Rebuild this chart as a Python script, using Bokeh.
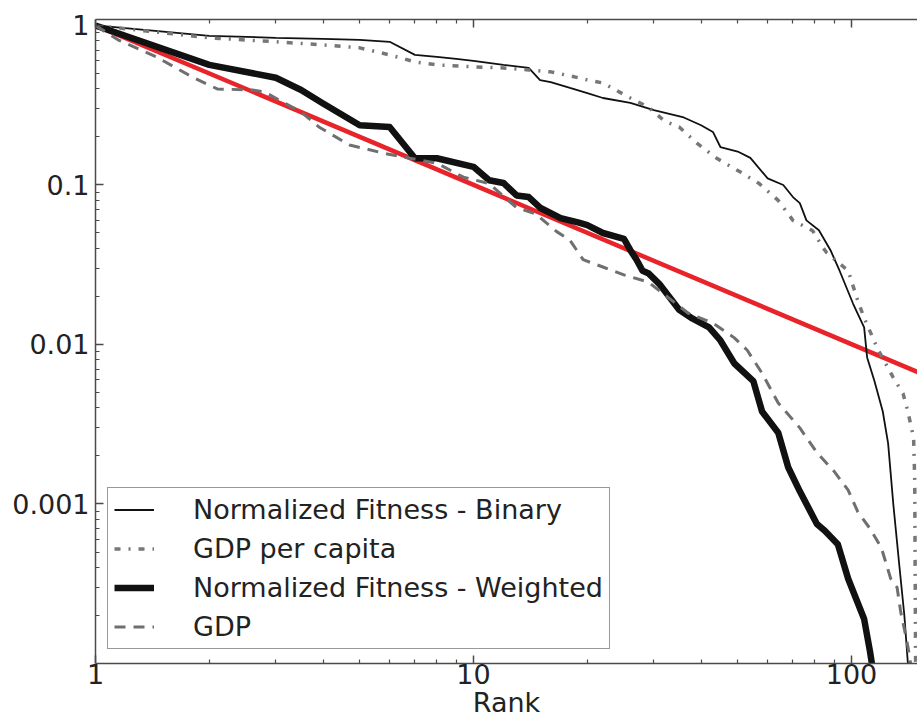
from bokeh.plotting import figure
from bokeh.models import LogAxis, FixedTicker, Legend, LegendItem, Range1d, CustomJSTickFormatter
from bokeh.embed import file_html
from bokeh.resources import INLINE

FONT = "DejaVu Sans"

# ---- tick definitions ----
x_major = [1, 10, 100]
x_minor = [2, 3, 4, 5, 6, 7, 8, 9, 20, 30, 40, 50, 60, 70, 80, 90]
x_labels = {1.0: "1", 10.0: "10", 100.0: "100"}
y_major = [0.001, 0.01, 0.1, 1]
y_minor = [2e-4, 3e-4, 4e-4, 5e-4, 6e-4, 7e-4, 8e-4, 9e-4,
           2e-3, 3e-3, 4e-3, 5e-3, 6e-3, 7e-3, 8e-3, 9e-3,
           0.02, 0.03, 0.04, 0.05, 0.06, 0.07, 0.08, 0.09,
           0.2, 0.3, 0.4, 0.5, 0.6, 0.7, 0.8, 0.9]
y_labels = {0.001: "0.001", 0.01: "0.01", 0.1: "0.1", 1.0: "1"}

# ---- series ----
binary_rank = [1, 2, 3, 4, 5, 6, 7, 8, 9, 10, 12, 14, 15, 16, 18, 20, 22, 26, 30, 36, 40, 43,
               45, 50, 54, 60, 66, 70, 73, 76, 82, 88, 93, 101, 108, 110, 115, 121, 125,
               129, 134, 138, 141, 143]
binary_value = [1.0, 0.861, 0.837, 0.825, 0.813, 0.79, 0.654, 0.636, 0.617, 0.60, 0.566, 0.542,
                0.455, 0.442, 0.406, 0.377, 0.351, 0.327, 0.295, 0.265, 0.237, 0.215,
                0.173, 0.162, 0.148, 0.11, 0.10, 0.084, 0.077, 0.06, 0.052, 0.039, 0.029,
                0.018, 0.0128, 0.0083, 0.0059, 0.0038, 0.0024, 0.001, 0.0004, 0.0002,
                0.0001, 0.00007]

gdppc_rank = [1, 2, 3, 4, 5, 6, 7, 8, 10, 12, 14, 16, 18, 20, 22, 26, 29, 32, 35, 39, 44, 51,
              57, 64, 70, 79, 84, 86, 98, 104, 108, 117, 129, 137, 141, 146, 147, 148]
gdppc_value = [1.0, 0.837, 0.79, 0.756, 0.724, 0.654, 0.591, 0.566, 0.55, 0.542, 0.526, 0.512,
               0.483, 0.456, 0.436, 0.351, 0.308, 0.252, 0.231, 0.183, 0.147, 0.12, 0.102,
               0.08, 0.06, 0.0516, 0.0405, 0.0376, 0.029, 0.0187, 0.0147, 0.0095, 0.0062,
               0.0049, 0.0038, 0.0026, 0.0014, 0.00005]

weighted_rank = [1, 2, 3, 3.5, 4, 5, 6, 7, 8, 10, 11, 12, 13, 14, 15, 17, 19, 20, 22, 25, 26,
                 27, 28, 29, 31, 35, 38, 42, 45, 49, 55, 58, 64, 68, 73, 81, 85, 92, 98,
                 108, 112, 114]
weighted_value = [1.0, 0.566, 0.47, 0.394, 0.324, 0.237, 0.231, 0.147, 0.147, 0.13, 0.107,
                  0.103, 0.086, 0.084, 0.072, 0.062, 0.058, 0.056, 0.05, 0.046, 0.039, 0.034,
                  0.029, 0.028, 0.024, 0.0165, 0.0145, 0.0128, 0.0106, 0.0076, 0.0059,
                  0.0038, 0.0028, 0.0017, 0.0012, 0.00075, 0.00068, 0.00056, 0.00034,
                  0.00019, 0.000118, 0.00009]

gdp_rank = [1, 1.15, 1.45, 1.8, 2.1, 2.6, 2.8, 3.1, 3.5, 3.9, 4.7, 5.8, 6.8, 8, 9.4, 11, 13,
            14.6, 16.6, 18, 19.5, 22, 25, 29, 31, 37, 43, 49, 53, 58, 64, 73, 81, 90, 98,
            104, 112, 120, 127, 132, 135, 140, 143, 145]
gdp_value = [1.0, 0.81, 0.635, 0.476, 0.40, 0.394, 0.383, 0.335, 0.287, 0.231, 0.178, 0.158,
             0.147, 0.137, 0.112, 0.102, 0.072, 0.066, 0.051, 0.045, 0.034, 0.0306, 0.0273,
             0.0246, 0.0218, 0.0157, 0.0136, 0.011, 0.0092, 0.0066, 0.0043, 0.003, 0.0021,
             0.0016, 0.00122, 0.00089, 0.0007, 0.00053, 0.00034, 0.0003, 0.00021, 0.00014,
             0.000105, 0.00007]

fit_rank = [1, 150]
fit_value = [1.0, 0.0067]

series_labels = ["Normalized Fitness - Binary", "GDP per capita",
                 "Normalized Fitness - Weighted", "GDP"]
x_title = "Rank"

# ---- figure ----
p = figure(width=917, height=721, x_axis_type="log", y_axis_type="log",
           x_range=Range1d(1, 149.5), y_range=Range1d(1e-4, 1.09),
           output_backend="svg", toolbar_location=None,
           min_border_left=95, min_border_right=0, min_border_top=19,
           min_border_bottom=58)
p.outline_line_color = None
p.xgrid.visible = False
p.ygrid.visible = False
p.background_fill_color = "white"
p.border_fill_color = "white"

bottom_axis = p.below[0]
left_axis = p.left[0]
top_axis = LogAxis(formatter=CustomJSTickFormatter(code="return ''"))
p.add_layout(top_axis, "above")

AX = "#4a4a4a"
for ax in [bottom_axis, left_axis, top_axis]:
    ax.axis_line_color = AX
    ax.axis_line_width = 1.5
    ax.major_tick_line_color = AX
    ax.major_tick_line_width = 1.5
    ax.minor_tick_line_color = AX
    ax.minor_tick_line_width = 1.2
    ax.major_tick_in = 8
    ax.major_tick_out = 0
    ax.minor_tick_in = 4
    ax.minor_tick_out = 0
    ax.major_label_text_font = FONT
    ax.major_label_text_font_size = "27px"
    ax.major_label_text_color = "#222222"

for ax in [bottom_axis, top_axis]:
    ax.ticker = FixedTicker(ticks=x_major, minor_ticks=x_minor)
bottom_axis.major_label_overrides = x_labels
left_axis.ticker = FixedTicker(ticks=y_major, minor_ticks=y_minor)
left_axis.major_label_overrides = y_labels
left_axis.major_label_standoff = 6
bottom_axis.major_label_standoff = 0
top_axis.major_label_standoff = 0

bottom_axis.axis_label = x_title
bottom_axis.axis_label_text_font = FONT
bottom_axis.axis_label_text_font_style = "normal"
bottom_axis.axis_label_text_font_size = "27px"
bottom_axis.axis_label_text_color = "#222222"
bottom_axis.axis_label_standoff = 0

# ---- lines ----
p.line(fit_rank, fit_value, line_color="#e8232a", line_width=4.5)
r_b = p.line(binary_rank, binary_value, line_color="#111111", line_width=1.8)
r_pc = p.line(gdppc_rank, gdppc_value, line_color="#777777", line_width=3.5,
              line_dash="6 8 2 8")
r_w = p.line(weighted_rank, weighted_value, line_color="#111111", line_width=6.5,
             line_join="round")
r_g = p.line(gdp_rank, gdp_value, line_color="#6f6f6f", line_width=3,
             line_dash="11 8")

legend = Legend(items=[LegendItem(label=series_labels[0], renderers=[r_b]),
                       LegendItem(label=series_labels[1], renderers=[r_pc]),
                       LegendItem(label=series_labels[2], renderers=[r_w]),
                       LegendItem(label=series_labels[3], renderers=[r_g])],
                location=(12, 14))
legend.label_text_font = FONT
legend.label_text_font_size = "27px"
legend.label_text_color = "#222222"
legend.glyph_width = 40
legend.glyph_height = 31
legend.label_height = 31
legend.label_standoff = 39
legend.spacing = 8
legend.padding = 6
legend.margin = 0
legend.border_line_color = "#333333"
legend.border_line_width = 1.5
legend.background_fill_color = "white"
legend.background_fill_alpha = 1.0
p.add_layout(legend)

open("out.html", "w").write(file_html(p, INLINE))
